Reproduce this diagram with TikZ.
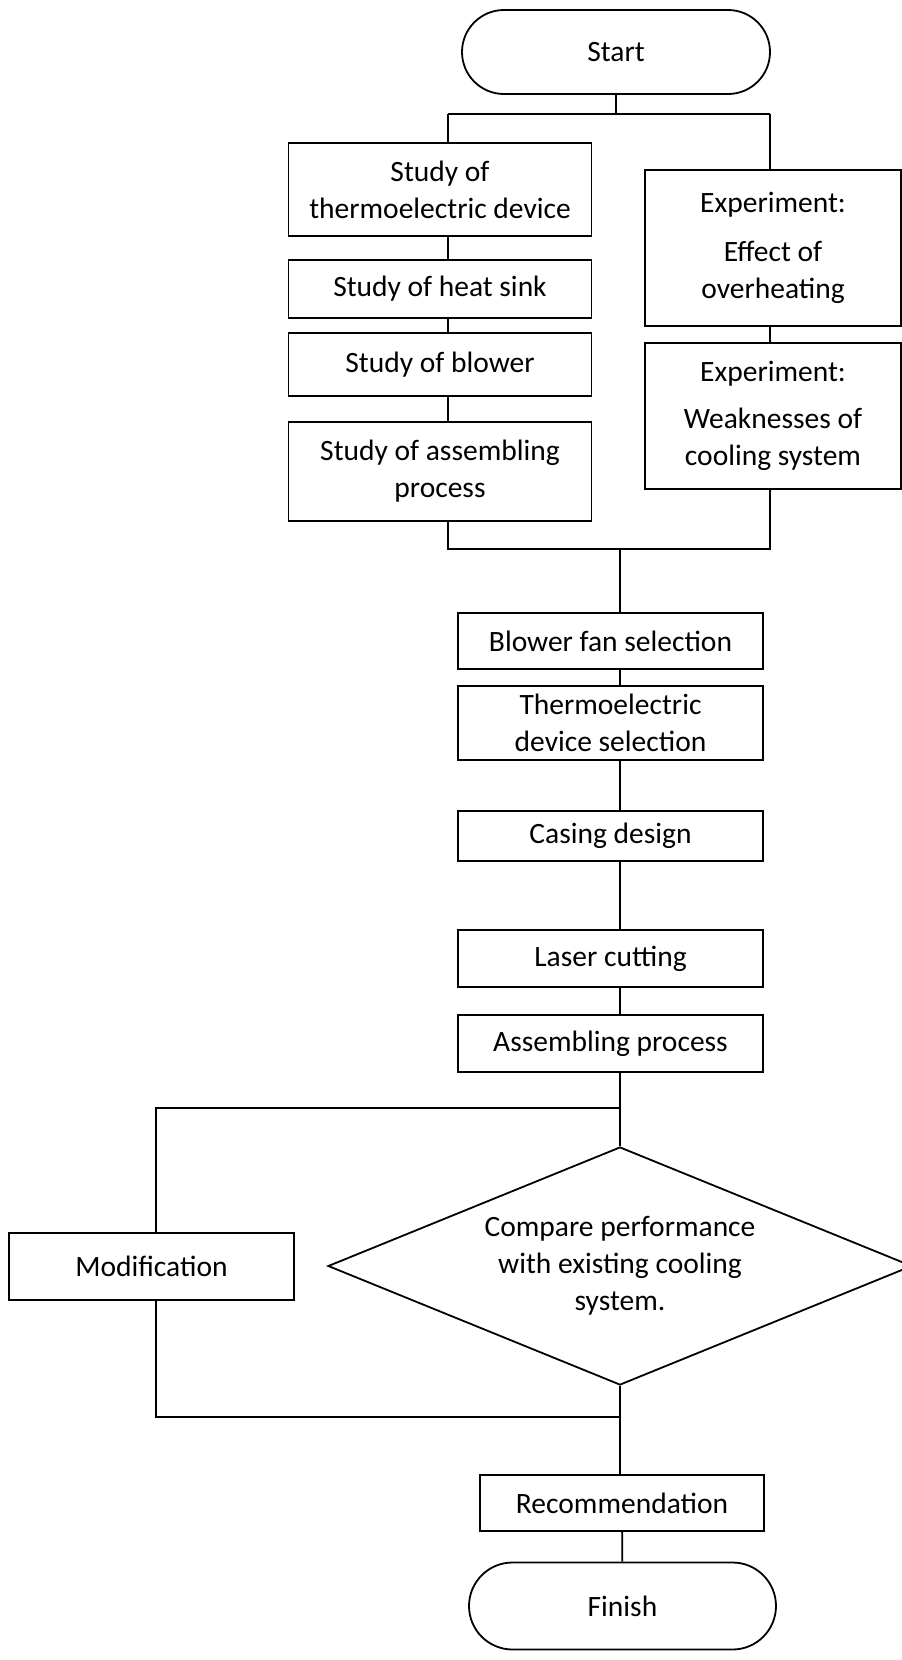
\documentclass[tikz,border=0pt]{standalone}
\usepackage{fontspec}
\setmainfont{Carlito}
\usetikzlibrary{shapes.misc}
\usetikzlibrary{shapes.geometric}

\begin{document}
\begin{tikzpicture}[x=1pt, y=-1pt, line width=1.8pt,
	every node/.style={font=\fontsize{29.5}{37}\selectfont, align=center, inner sep=0pt},
	stepbox/.style={draw, rectangle},
	terminal/.style={draw, rounded rectangle},
	decision/.style={draw, diamond, aspect=2.45}]
	% sheet: 902 x 1660, y runs downwards
	\useasboundingbox (0,0) rectangle (902,1660);

	% start
	\node[terminal, minimum width=308pt, minimum height=84pt] (start) at (616,52) {Start};
	\coordinate (lsplit) at (448,114);
	\coordinate (rsplit) at (770,114);

	% left column: studies
	\node[stepbox, minimum width=303pt, minimum height=93pt] (thermo) at (440,189.5) {Study of\\thermoelectric device};
	\node[stepbox, minimum width=303pt, minimum height=58pt] (sink) at (440,289) {Study of heat sink};
	\node[stepbox, minimum width=303pt, minimum height=63pt] (blower) at (440,364.5) {Study of blower};
	\node[stepbox, minimum width=303pt, minimum height=99pt] (assembly) at (440,471.5) {Study of assembling\\process};

	% right column: experiments
	\node[stepbox, minimum width=256pt, minimum height=156pt] (overheat) at (773,248) {Experiment:\\[12pt]Effect of\\overheating};
	\node[stepbox, minimum width=256pt, minimum height=146pt] (weak) at (773,416) {Experiment:\\[10pt]Weaknesses of\\cooling system};

	% both columns join again
	\coordinate (ljoin) at (448,549);
	\coordinate (rjoin) at (770,549);
	\coordinate (mjoin) at (620,549);

	% design and build
	\node[stepbox, minimum width=305pt, minimum height=56pt] (fansel) at (610.5,641) {Blower fan selection};
	\node[stepbox, minimum width=305pt, minimum height=74pt] (tecsel) at (610.5,723) {Thermoelectric\\device selection};
	\node[stepbox, minimum width=305pt, minimum height=50pt] (casing) at (610.5,836) {Casing design};
	\node[stepbox, minimum width=305pt, minimum height=57pt] (laser) at (610.5,958.5) {Laser cutting};
	\node[stepbox, minimum width=305pt, minimum height=57pt] (assemble) at (610.5,1043.5) {Assembling process};

	% test loop
	\node[decision, minimum width=584pt, minimum height=238pt] (compare) at (620,1266) {Compare performance\\with existing cooling\\system.};
	\node[stepbox, minimum width=285pt, minimum height=67pt] (modify) at (151.5,1266.5) {Modification};
	\coordinate (ltop) at (156,1108);
	\coordinate (lbot) at (156,1417);

	% end
	\node[stepbox, minimum width=284pt, minimum height=56pt] (recommend) at (622,1503) {Recommendation};
	\node[terminal, minimum width=307pt, minimum height=87pt] (finish) at (622.5,1606) {Finish};

	% connectors
	\draw (start) -- (start |- lsplit);
	\draw (lsplit) -- (rsplit);
	\draw (lsplit) -- (thermo.north -| lsplit);
	\draw (thermo.south -| lsplit) -- (sink.north -| lsplit);
	\draw (sink.south -| lsplit) -- (blower.north -| lsplit);
	\draw (blower.south -| lsplit) -- (assembly.north -| lsplit);
	\draw (assembly.south -| ljoin) -- (ljoin) -- (rjoin) -- (weak.south -| rjoin);
	\draw (rsplit) -- (overheat.north -| rsplit);
	\draw (overheat.south -| rsplit) -- (weak.north -| rsplit);

	\draw (mjoin) -- (fansel.north -| mjoin);
	\draw (fansel.south -| mjoin) -- (tecsel.north -| mjoin);
	\draw (tecsel.south -| mjoin) -- (casing.north -| mjoin);
	\draw (casing.south -| mjoin) -- (laser.north -| mjoin);
	\draw (laser.south -| mjoin) -- (assemble.north -| mjoin);
	\draw (assemble.south -| mjoin) -- (compare.north);

	\draw (compare.north |- ltop) -- (ltop) -- (modify.north -| ltop);
	\draw (modify.south -| lbot) -- (lbot) -- (compare.south |- lbot);
	\draw (compare.south) -- (recommend.north -| compare.south);
	\draw (recommend) -- (finish);
\end{tikzpicture}
\end{document}
